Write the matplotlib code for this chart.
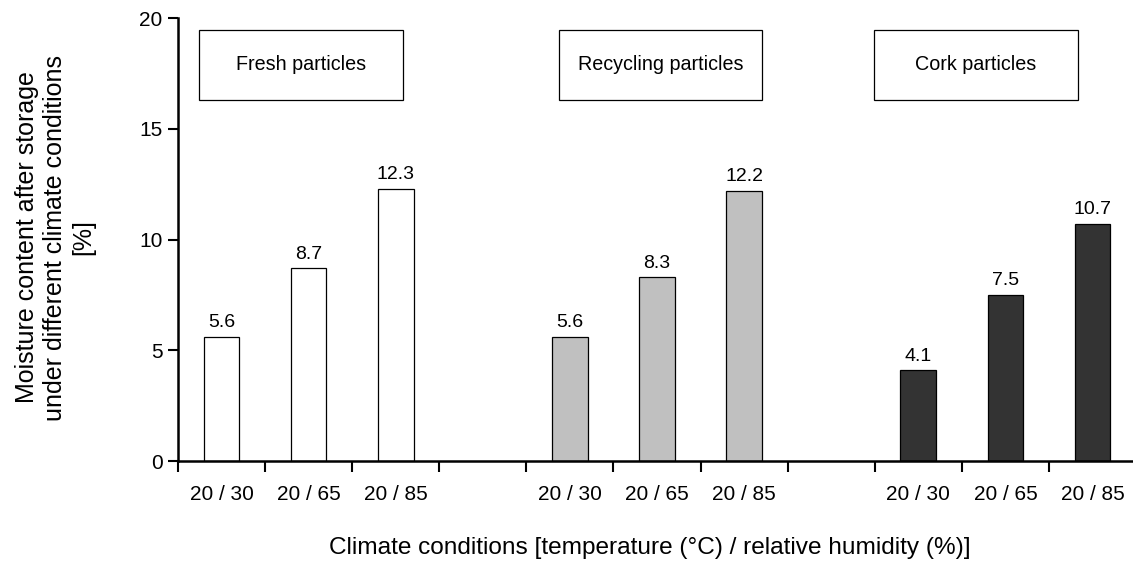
import matplotlib.pyplot as plt
from matplotlib.patches import Rectangle
from matplotlib.transforms import Bbox

plt.rcParams['font.family'] = ['Liberation Sans', 'DejaVu Sans']

# particle types and storage climates (temperature °C / relative humidity %)
groups = ['Fresh particles', 'Recycling particles', 'Cork particles']
conditions = ['20 / 30', '20 / 65', '20 / 85']
fresh = [5.6, 8.7, 12.3]
recycling = [5.6, 8.3, 12.2]
cork = [4.1, 7.5, 10.7]
colors = ['white', '#c0c0c0', '#333333']

# left edges of the caption boxes, in slot units
box_left = [0.24, 4.37, 7.99]
box_width = 2.34

fig = plt.figure(figsize=(11.33, 5.71), dpi=100)
ax = fig.add_axes([0.1571, 0.1926, 0.8456, 0.7758])

series = [fresh, recycling, cork]
label_pos = []
label_txt = []
for g, values in enumerate(series):
    for c, v in enumerate(values):
        x = g * 4 + c + 0.5
        ax.bar(x, v, width=0.41, color=colors[g], edgecolor='black', linewidth=0.9, zorder=2)
        ax.annotate(f'{v:.1f}', (x, v), xytext=(0, 4), textcoords='offset points',
                    ha='center', va='bottom', fontsize=14)
        label_pos.append(x)
        label_txt.append(conditions[c])

    rect = Rectangle((box_left[g], 16.28), box_width, 3.2, facecolor='white',
                     edgecolor='black', linewidth=0.9, zorder=3)
    ax.add_patch(rect)
    ax.text(box_left[g] + box_width / 2, 17.88, groups[g], ha='center', va='center',
            fontsize=14.2, zorder=4)

ax.set_xlim(0, 11)
ax.set_ylim(0, 20)
ax.set_yticks([0, 5, 10, 15, 20])
ax.set_xticks(range(12))
ax.set_xticklabels([])
ax.set_xticks(label_pos, minor=True)
ax.set_xticklabels(label_txt, minor=True, fontsize=15)

ax.tick_params(axis='y', direction='out', length=7, width=1.5, labelsize=15, pad=4)
ax.tick_params(axis='x', which='major', direction='out', length=8, width=1.5)
ax.tick_params(axis='x', which='minor', length=0, pad=17)

for side in ['top', 'right']:
    ax.spines[side].set_visible(False)
for side in ['left', 'bottom']:
    ax.spines[side].set_linewidth(1.8)

fig.text(650 / 1133, 1 - 548 / 571, 'Climate conditions [temperature (°C) / relative humidity (%)]',
         ha='center', va='center', fontsize=17.6)

ylab = fig.text(55 / 1133, 0.584, 'Moisture content after storage\nunder different climate conditions\n[%]',
                rotation=90, ha='center', va='center', multialignment='center', fontsize=18)
ylab.set_clip_box(Bbox.from_extents(0, 0, 1133, 571 - 49))

fig.savefig('out.png', dpi=100)
